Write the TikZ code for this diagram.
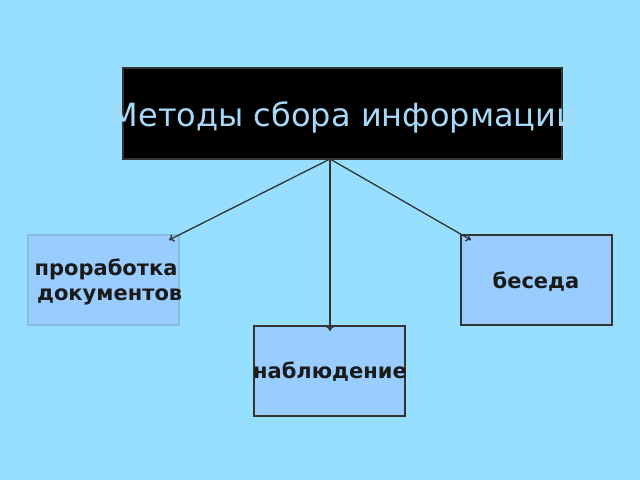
\documentclass[tikz,border=0pt]{standalone}
\usepackage{fontspec}
\setmainfont{DejaVu Sans}
\usetikzlibrary{arrows.meta}
\definecolor{bgc}{HTML}{97DFFF}
\definecolor{boxc}{HTML}{99CCFF}
\definecolor{titlec}{HTML}{A8D8F8}
\definecolor{lbord}{HTML}{88BBDD}
\definecolor{dbord}{HTML}{333333}
\definecolor{txt}{HTML}{1A1A1A}
\tikzset{
  leaf/.style={draw=dbord, line width=1.2pt, fill=boxc, minimum width=151pt, minimum height=90pt, inner sep=0pt},
  leaftext/.style={font=\bfseries\fontsize{21}{25}\selectfont, text=txt, align=center, inner sep=0pt},
  conn/.style={draw=dbord, line width=1.3pt, -{To[length=5pt,width=8pt]}}
}
\begin{document}
\begin{tikzpicture}[x=1pt,y=-1pt]
\fill[bgc] (0,0) rectangle (640,480);
\useasboundingbox (0,0) rectangle (640,480);
\node[draw=dbord, line width=1.2pt, fill=black, minimum width=439pt, minimum height=91pt, inner sep=0pt] (top) at (342.5,113.5) {};
\node[font=\fontsize{32}{38}\selectfont, text=titlec, inner sep=0pt] (title) at (344,117) {Методы сбора информации};
\node[leaf, draw=lbord] (l) at (103.5,280) {};
\node[leaf] (r) at (536.5,280) {};
\node[leaf] (b) at (329.5,371) {};
\node[leaftext] (lt) at (106,282) {проработка\\\ документов};
\node[leaftext] (rt) at (536,282) {беседа};
\node[leaftext] (bt) at (330,372) {наблюдение};
\coordinate (s) at (330,159);
\coordinate (le) at (169,240);
\coordinate (re) at (471,240);
\coordinate (be) at (330,331);
\draw[conn] (s) -- (le);
\draw[conn] (s) -- (re);
\draw[conn] (s) -- (be);
\end{tikzpicture}
\end{document}
